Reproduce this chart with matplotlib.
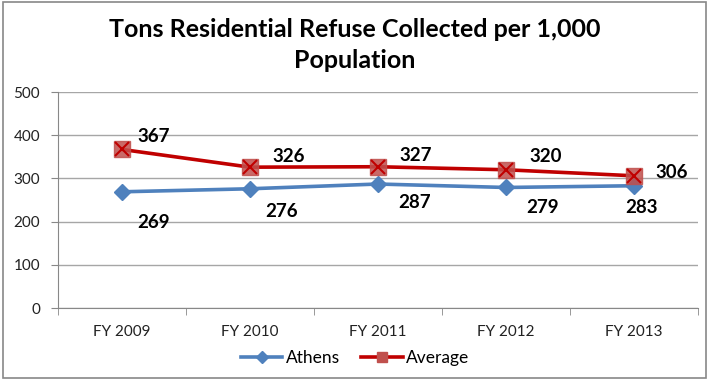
import matplotlib
matplotlib.use("Agg")
import matplotlib.pyplot as plt
from matplotlib.patches import Rectangle

plt.rcParams['font.family'] = ['Lato', 'DejaVu Sans']

years = ['FY 2009', 'FY 2010', 'FY 2011', 'FY 2012', 'FY 2013']
athens = [269, 276, 287, 279, 283]
average = [367, 326, 327, 320, 306]

# label offsets in pixels (manually placed in the original)
athens_off = [(32, -31), (32, -23), (37, -18), (37, -20), (8, -22)]
average_off = [(32, 13), (39, 11), (38, 11), (40, 13), (38, 3)]

fig = plt.figure(figsize=(7.1, 3.81), dpi=100)
ax = fig.add_axes([58 / 710, 73 / 381, 640 / 710, 216 / 381])

x = list(range(len(years)))
ax.plot(x, athens, color='#4F81BD', lw=2.6, marker='D', ms=8,
        mfc='#4F81BD', mec='#4F81BD', label='Athens', zorder=3)
ax.plot(x, average, color='#C00000', lw=2.6, zorder=3)
ax.plot(x, average, ls='none', marker='s', ms=11, mfc='#C0504D',
        mec='#C0504D', alpha=0.85, zorder=4)
ax.plot(x, average, ls='none', marker='x', ms=10, mew=1.5, mec='#C00000', zorder=5)
# legend proxy
ax.plot([], [], color='#C00000', lw=2.6, marker='s', ms=9, mfc='#C0504D',
        mec='#C0504D', label='Average')

for i in x:
    ax.annotate(str(athens[i]), (i, athens[i]), xytext=athens_off[i],
                textcoords='offset pixels', ha='center', va='center',
                fontsize=13.5, fontweight='bold', color='black')
    ax.annotate(str(average[i]), (i, average[i]), xytext=average_off[i],
                textcoords='offset pixels', ha='center', va='center',
                fontsize=13.5, fontweight='bold', color='black')

ax.set_xlim(-0.5, len(years) - 0.5)
ax.set_ylim(0, 500)
ax.set_yticks(range(0, 501, 100))
ax.set_xticks(x)
ax.set_xticklabels(years, fontsize=11, color='#222222')
ax.set_xticks([i - 0.5 for i in range(len(years) + 1)], minor=True)
ax.tick_params(axis='x', which='major', length=0, pad=12)
ax.tick_params(axis='x', which='minor', length=5, color='#888888')
ax.tick_params(axis='y', length=5, color='#888888', labelsize=11,
               labelcolor='#222222', pad=8)
ax.grid(axis='y', color='#A6A6A6', lw=1)
ax.set_axisbelow(True)
for s in ['top', 'right']:
    ax.spines[s].set_visible(False)
for s in ['left', 'bottom']:
    ax.spines[s].set_color('#888888')

fig.text(0.5, 1 - 45 / 381, 'Tons Residential Refuse Collected per 1,000\nPopulation',
         ha='center', va='center', fontsize=18, fontweight='bold',
         linespacing=1.45)

fig.legend(loc='center', bbox_to_anchor=(0.5, 1 - 358 / 381), ncol=2,
           frameon=False, fontsize=12.5, handlelength=2.4, columnspacing=1.2,
           handletextpad=0.2, markerscale=0.75)

fig.patches.append(Rectangle((3 / 710, 3 / 381), 703 / 710, 376 / 381,
                             transform=fig.transFigure, fill=False,
                             ec='#888888', lw=1.2))

fig.savefig('out.png', dpi=100)
